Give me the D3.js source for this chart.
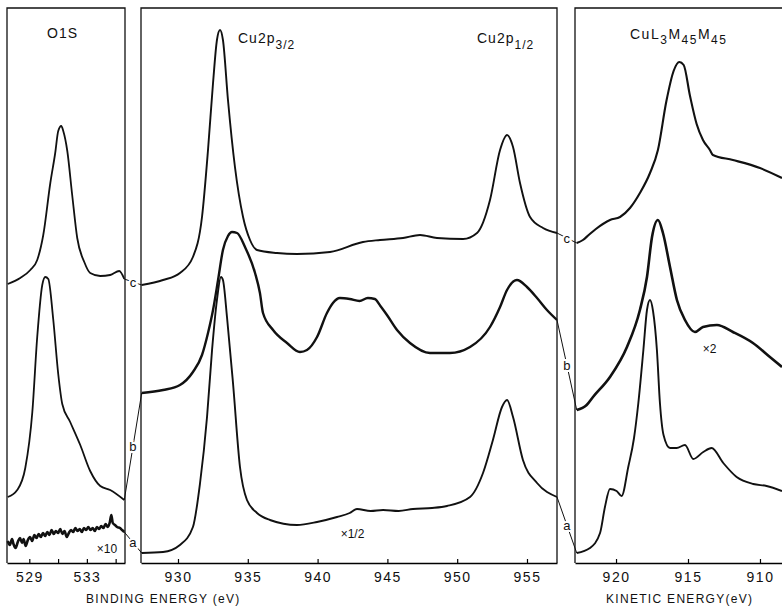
<!DOCTYPE html>
<html>
<head>
<meta charset="utf-8">
<script src="https://cdn.jsdelivr.net/npm/d3@7"></script>
<style>
  body { margin: 0; background: #fff; }
  svg { display: block; }
  text { font-family: "Liberation Sans", "DejaVu Sans", sans-serif; fill: #111; }
  .frame { fill: none; stroke: #111; stroke-width: 1.3; }
  .spec { fill: none; stroke: #111; stroke-linejoin: round; }
  .link { stroke: #111; stroke-width: 1; }
  .tag { font-size: 13px; paint-order: stroke; stroke: #fff; stroke-width: 4px; }
</style>
</head>
<body>
<svg></svg>
<script>
// spectra: [energy (eV), intensity (arb. units)]
const O1S_A = [
  [527.5, 22], [527.65, 18], [527.8, 24], [527.9, 19], [528.05, 15], [528.2, 21], [528.35, 25],
  [528.5, 20], [528.6, 24], [528.75, 17], [528.9, 23], [529.05, 26], [529.2, 22], [529.35, 28],
  [529.5, 25], [529.65, 29], [529.8, 26], [529.95, 30], [530.1, 27], [530.25, 31], [530.4, 28],
  [530.55, 33], [530.7, 29], [530.85, 32], [531.0, 30], [531.15, 34], [531.3, 29], [531.45, 32],
  [531.6, 26], [531.75, 30], [531.9, 33], [532.05, 31], [532.2, 35], [532.35, 32], [532.5, 34],
  [532.65, 31], [532.8, 35], [532.95, 33], [533.1, 36], [533.25, 33], [533.4, 35], [533.55, 32],
  [533.7, 36], [533.85, 34], [534.0, 37], [534.15, 35], [534.3, 39], [534.45, 36], [534.6, 41],
  [534.7, 48], [534.8, 40], [534.95, 38], [535.1, 36], [535.3, 35], [535.45, 33], [535.6, 31]
];
const O1S_B = [
  [527.5, 66], [528.16, 73], [528.72, 95], [529.21, 151], [529.55, 226], [529.9, 278],
  [530.11, 286], [530.32, 284], [530.66, 244], [531.01, 189], [531.29, 159], [531.84, 141],
  [532.54, 118], [533.23, 92], [533.93, 77], [534.62, 73], [535.6, 63]
];
const O1S_C = [
  [527.5, 279], [528.37, 285], [529.07, 293], [529.55, 303], [529.97, 328], [530.46, 380],
  [530.8, 410], [531.01, 432], [531.22, 437], [531.36, 432], [531.64, 412], [531.98, 368],
  [532.33, 325], [532.82, 301], [533.23, 290], [533.93, 287], [534.62, 288], [535.25, 292],
  [535.6, 284]
];

const CU_A = [
  [927.4, 10], [928.93, 11], [930.14, 18], [931.07, 36], [931.58, 80], [932.08, 146],
  [932.44, 213], [932.79, 263], [933.08, 286], [933.22, 283], [933.51, 246], [933.94, 180],
  [934.44, 96], [934.94, 63], [935.66, 50], [936.59, 43], [938.52, 38], [939.96, 41],
  [941.39, 46], [942.3, 50], [942.82, 54], [943.8, 52], [944.69, 53], [945.8, 52], [946.83, 54],
  [948.2, 55], [949.27, 57], [950.92, 66], [951.85, 90], [952.56, 123], [953.21, 156],
  [953.57, 163], [954.0, 146], [954.71, 103], [955.72, 80], [957.15, 66]
];
const CU_B = [
  [927.4, 170], [928.93, 173], [930.14, 178], [931.07, 191], [931.72, 208], [932.15, 230],
  [932.51, 253], [932.87, 283], [933.22, 313], [933.58, 327], [933.87, 331], [934.23, 330],
  [934.8, 316], [935.52, 290], [935.87, 270], [936.09, 250], [936.81, 233], [937.81, 220],
  [938.74, 211], [939.24, 213], [939.96, 226], [940.67, 250], [941.1, 260], [941.6, 265],
  [942.3, 264], [943.0, 262], [943.6, 265], [944.1, 264], [944.5, 257], [944.97, 248],
  [945.69, 233], [946.62, 220], [948.05, 210], [949.48, 210], [950.92, 216], [952.35, 236],
  [953.07, 256], [953.57, 273], [954.28, 283], [955.0, 276], [955.72, 265], [956.43, 253],
  [957.15, 243]
];
const CU_C = [
  [927.4, 278], [928.93, 283], [930.14, 290], [931.07, 306], [931.72, 346], [932.15, 413],
  [932.51, 480], [932.79, 523], [933.01, 533], [933.22, 523], [933.58, 463], [934.08, 396],
  [934.66, 346], [935.16, 323], [935.66, 313], [937.09, 310], [938.52, 309], [940.89, 311],
  [943.25, 321], [944.47, 323], [946.12, 325], [947.34, 328], [948.55, 325], [950.42, 324],
  [951.42, 330], [952.35, 363], [953.07, 413], [953.57, 428], [954.0, 416], [954.5, 380],
  [955.22, 346], [956.15, 335], [957.15, 330]
];

const AUG_A = [
  [922.73, 10], [921.81, 15], [921.11, 30], [920.77, 56], [920.42, 74], [919.96, 72],
  [919.61, 67], [919.15, 96], [918.75, 125], [918.45, 160], [918.1, 213], [917.85, 253],
  [917.64, 263], [917.43, 252], [917.16, 213], [916.95, 160], [916.7, 128], [916.25, 115],
  [915.79, 115], [915.21, 118], [914.63, 104], [913.94, 111], [913.36, 115], [912.55, 100],
  [911.62, 86], [910.47, 79], [909.54, 77], [908.47, 72]
];
const AUG_B = [
  [922.73, 153], [922.04, 158], [921.6, 166], [920.42, 186], [919.24, 216], [918.34, 253],
  [917.85, 286], [917.5, 326], [917.09, 343], [916.74, 330], [916.25, 296], [915.77, 263],
  [915.21, 243], [914.52, 231], [913.96, 236], [912.99, 238], [911.88, 231], [910.49, 220],
  [909.31, 206], [908.47, 196]
];
const AUG_C = [
  [922.73, 320], [922.3, 323], [921.9, 328], [921.4, 334], [920.42, 343], [919.72, 346],
  [919.03, 355], [918.34, 370], [917.64, 390], [917.09, 413], [916.5, 462], [916.0, 492],
  [915.6, 501], [915.3, 498], [914.86, 467], [914.4, 439], [913.96, 423], [913.48, 413],
  [913.27, 408], [911.88, 403], [910.0, 395], [908.47, 385]
];

const CURVE_NAMES = ["a", "b", "c"];

const O1S_TICKS = [529, 531, 533, 535];
const O1S_LABELS = [529, 533];
const CU_TICKS = [930, 935, 940, 945, 950, 955];
const AUG_TICKS = [920, 915, 910];

// scale factors written on the figure: [panel, energy, intensity, text]
const NOTES = [
  [0, 534.4, 14, "×10"],
  [1, 942.5, 29, "×1/2"],
  [2, 913.5, 214, "×2"]
];

const width = 782;
const height = 607;
const yBottom = 563;
const yTop = 8;
// pen width of curves a, b, c (noisy traces print heavier)
const strokes = [[2.6, 1.8, 1.8], [1.9, 2.4, 1.9], [1.9, 2.6, 2.1]];

const svg = d3.select("svg")
  .attr("width", width)
  .attr("height", height);

const y = d3.scaleLinear().domain([0, 555]).range([yBottom, yTop]);

const panels = [
  { x: d3.scaleLinear().domain([527.45, 535.65]).range([7, 125]), ticks: O1S_TICKS, labels: O1S_LABELS,
    data: [O1S_A, O1S_B, O1S_C], closed: true },
  { x: d3.scaleLinear().domain([927.35, 957.15]).range([141, 557]), ticks: CU_TICKS, labels: CU_TICKS,
    data: [CU_A, CU_B, CU_C], closed: true },
  { x: d3.scaleLinear().domain([922.85, 908.47]).range([575, 782]), ticks: AUG_TICKS, labels: AUG_TICKS,
    data: [AUG_A, AUG_B, AUG_C], closed: false }
];

panels.forEach((p, pi) => {
  const [x0, x1] = p.x.range();
  const g = svg.append("g");

  // frame: left, top and (if present) right edge
  const frame = p.closed
    ? `M${x0},${yBottom}V${yTop}H${x1}V${yBottom}`
    : `M${x0},${yBottom}V${yTop}H${x1}`;
  g.append("path").attr("class", "frame").attr("d", frame);

  const axis = d3.axisBottom(p.x)
    .tickValues(p.ticks)
    .tickSizeInner(-4)
    .tickSizeOuter(0)
    .tickPadding(9)
    .tickFormat(d => p.labels.includes(d) ? d : "");

  const ax = g.append("g")
    .attr("transform", `translate(0,${yBottom})`)
    .call(axis);
  ax.attr("font-size", 14).attr("font-family", null);
  ax.select(".domain").attr("stroke-width", 1.3);
  ax.selectAll(".tick line").attr("stroke-width", 1.2);
  ax.selectAll(".tick text").style("letter-spacing", "1.5px");

  const line = d3.line()
    .x(d => p.x(d[0]))
    .y(d => y(d[1]))
    .curve(d3.curveMonotoneX);

  g.selectAll(".spec")
    .data(p.data)
    .enter().append("path")
    .attr("class", "spec")
    .attr("stroke-width", (d, i) => strokes[pi][i])
    .attr("d", line);
});

// thin leads joining each curve to the same curve in the next panel
for (let pi = 0; pi < panels.length - 1; pi++) {
  const L = panels[pi], R = panels[pi + 1];
  CURVE_NAMES.forEach((name, i) => {
    const end = L.data[i][L.data[i].length - 1];
    const start = R.data[i][0];
    const xa = L.x(end[0]), ya = y(end[1]);
    const xb = R.x(start[0]), yb = y(start[1]);
    svg.append("line")
      .attr("class", "link")
      .attr("x1", xa).attr("y1", ya)
      .attr("x2", xb).attr("y2", yb);
    svg.append("text")
      .attr("class", "tag")
      .attr("x", (xa + xb) / 2)
      .attr("y", (ya + yb) / 2)
      .attr("dy", "0.35em")
      .attr("text-anchor", "middle")
      .text(name);
  });
}

svg.selectAll(".note")
  .data(NOTES)
  .enter().append("text")
  .attr("class", "note")
  .attr("x", d => panels[d[0]].x(d[1]))
  .attr("y", d => y(d[2]))
  .attr("dy", "0.35em")
  .attr("text-anchor", "middle")
  .attr("font-size", 12)
  .text(d => d[3]);

// panel titles
svg.append("text").attr("x", 47).attr("y", 38).attr("font-size", 14)
  .style("letter-spacing", "1px").text("O1S");

const t1 = svg.append("text").attr("x", 238).attr("y", 43).attr("font-size", 14)
  .style("letter-spacing", "1px");
t1.append("tspan").text("Cu2p");
t1.append("tspan").attr("dy", 6).attr("font-size", 12).text("3/2");

const t2 = svg.append("text").attr("x", 477).attr("y", 43).attr("font-size", 14)
  .style("letter-spacing", "1px");
t2.append("tspan").text("Cu2p");
t2.append("tspan").attr("dy", 6).attr("font-size", 12).text("1/2");

const t3 = svg.append("text").attr("x", 630).attr("y", 39).attr("font-size", 14)
  .style("letter-spacing", "1.5px");
t3.append("tspan").text("CuL");
t3.append("tspan").attr("dy", 5).attr("font-size", 12).text("3");
t3.append("tspan").attr("dy", -5).text("M");
t3.append("tspan").attr("dy", 5).attr("font-size", 12).text("45");
t3.append("tspan").attr("dy", -5).text("M");
t3.append("tspan").attr("dy", 5).attr("font-size", 12).text("45");

// axis titles
svg.append("text").attr("x", 86).attr("y", 603).attr("font-size", 12)
  .style("letter-spacing", "1.3px").text("BINDING ENERGY (eV)");
svg.append("text").attr("x", 606).attr("y", 603).attr("font-size", 12)
  .style("letter-spacing", "1.3px").text("KINETIC ENERGY(eV)");
</script>
</body>
</html>
